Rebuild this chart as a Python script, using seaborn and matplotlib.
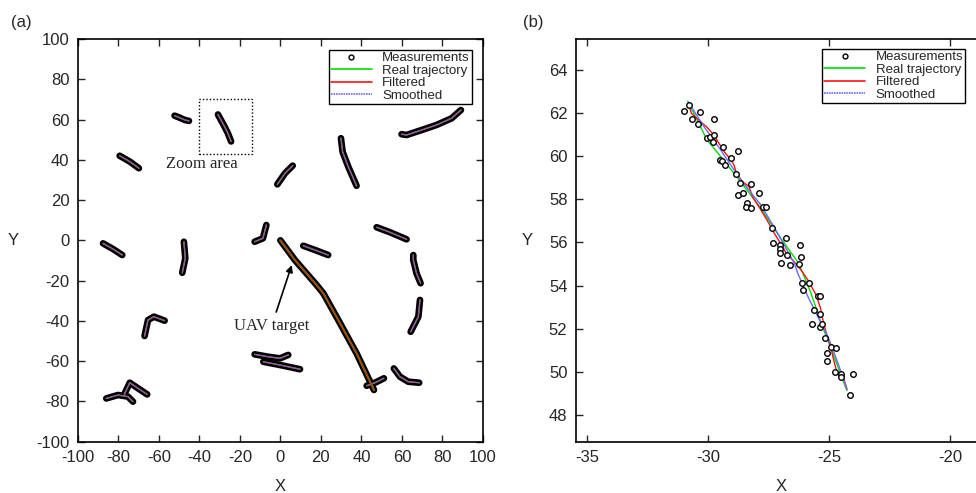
import pandas as pd
import seaborn as sns
import matplotlib.pyplot as plt
from matplotlib.lines import Line2D
from matplotlib.patches import Rectangle


# panel (a): tracked targets, polyline vertices
tracks_x = [
    [-52.2, -49.7, -47.2, -45.1],
    [-30.8, -27.5, -25.9, -24.3],
    [-79.3, -74.3, -69.8],
    [-87.5, -82.6, -78.0],
    [-47.6, -46.9, -48.4],
    [-12.7, -8.6, -6.9],
    [-1.5, 2.3, 6.1],
    [29.9, 30.7, 33.5, 37.6],
    [59.8, 62.3, 68.9, 77.1, 84.5, 89.1],
    [47.5, 54.1, 62.3],
    [11.3, 17.1, 23.6],
    [65.6, 65.6, 67.2, 69.2],
    [68.9, 68.1, 64.3],
    [42.6, 46.7, 51.1],
    [56.0, 59.0, 63.1, 68.5],
    [-12.7, -6.1, -0.2, 3.9],
    [-8.4, -0.2, 9.7],
    [-67.0, -65.3, -62.4, -57.1],
    [-85.9, -80.1, -75.2, -72.7],
    [-77.0, -74.3, -70.2, -65.7],
]
tracks_y = [
    [61.9, 60.9, 59.8, 59.3],
    [62.5, 56.4, 53.2, 49.1],
    [42.0, 39.1, 35.8],
    [-1.5, -4.3, -7.3],
    [-0.7, -8.9, -16.1],
    [-0.7, 1.0, 7.6],
    [27.8, 33.3, 37.1],
    [50.7, 44.0, 36.6, 27.1],
    [52.7, 52.3, 54.5, 57.3, 60.6, 64.7],
    [6.5, 4.0, 0.5],
    [-2.7, -4.8, -7.3],
    [-7.3, -9.8, -16.4, -21.3],
    [-29.6, -37.9, -45.4],
    [-72.2, -70.7, -68.5],
    [-63.6, -67.7, -70.2, -70.7],
    [-56.6, -57.8, -58.6, -56.9],
    [-60.3, -61.9, -64.0],
    [-47.5, -39.6, -37.9, -39.9],
    [-78.5, -76.8, -77.6, -80.1],
    [-76.5, -70.7, -73.5, -76.5],
]
uav_x = [0.0, 7.2, 17.9, 21.2, 28.6, 37.6, 46.2]
uav_y = [0.0, -9.8, -22.2, -26.3, -39.6, -56.1, -74.3]
zoom_box = [-40, 43, 26, 27]   # x0, y0, width, height

# panel (b): zoom on one target
meas_x = [-30.98, -30.77, -30.66, -30.34, -30.41, -29.74, -30.06, -29.93, -29.77, -29.80,
          -29.40, -29.51, -29.44, -29.30, -28.76, -29.07, -28.83, -28.68, -28.22, -28.76,
          -28.58, -28.40, -28.44, -28.25, -27.88, -27.73, -27.61, -27.38, -27.31, -27.05,
          -27.05, -27.02, -26.78, -26.20, -26.76, -26.98, -26.62, -26.16, -26.26, -26.14,
          -25.82, -26.08, -25.46, -25.40, -25.64, -25.37, -25.71, -25.37, -25.29, -25.19,
          -24.94, -24.71, -25.11, -25.11, -24.78, -24.53, -24.53, -24.03, -24.14]
meas_y = [62.11, 62.38, 61.73, 62.04, 61.50, 61.71, 60.86, 60.88, 61.00, 60.66,
          60.41, 59.83, 59.79, 59.61, 60.24, 59.90, 59.16, 58.77, 58.70, 58.19,
          58.28, 57.82, 57.66, 57.61, 58.28, 57.66, 57.66, 56.67, 55.99, 55.87,
          55.68, 55.53, 56.21, 55.87, 55.40, 55.03, 54.96, 55.33, 54.99, 54.12,
          54.12, 53.78, 53.50, 53.50, 52.87, 52.70, 52.23, 52.07, 52.20, 51.58,
          51.14, 51.09, 50.87, 50.49, 49.99, 49.90, 49.77, 49.90, 48.91]
real_x = [-30.84, -30.06, -28.93, -27.82, -27.24, -26.26, -25.75, -25.33, -24.85, -24.27]
real_y = [62.56, 60.79, 59.21, 57.59, 56.58, 55.03, 53.64, 52.25, 50.86, 49.13]
filt_x = [-30.80, -30.69, -30.31, -30.04, -29.76, -29.34, -29.07, -28.93, -28.83, -28.58,
          -28.31, -28.17, -27.82, -27.61, -27.27, -26.92, -26.74, -26.51, -26.16, -25.88,
          -25.54, -25.36, -25.26, -25.12, -24.94, -24.85, -24.71, -24.57, -24.39, -24.27]
filt_y = [62.38, 61.99, 61.60, 61.34, 60.98, 60.21, 59.86, 59.59, 59.21, 58.82,
          58.59, 58.12, 57.51, 57.12, 56.43, 55.80, 55.42, 55.19, 54.72, 54.26,
          53.56, 52.95, 52.40, 51.79, 51.17, 50.70, 50.09, 49.77, 49.65, 49.20]
smooth_x = [-30.81, -30.17, -29.48, -28.65, -27.82, -27.13, -26.44, -26.30, -25.88, -25.40,
            -25.05, -24.64, -24.27]
smooth_y = [62.50, 61.37, 60.29, 58.90, 57.74, 56.43, 55.03, 54.57, 53.49, 52.40,
            51.63, 50.40, 49.20]

GREEN = '#00e000'
RED = '#ff1010'
BLUE = '#6a6aff'

sns.set_style('ticks')
plt.rcParams['font.family'] = ['Liberation Sans', 'DejaVu Sans']
plt.rcParams['axes.unicode_minus'] = False
plt.rc('xtick', direction='in', top=True, labelsize=12)
plt.rc('ytick', direction='in', right=True, labelsize=12)
plt.rc('xtick.major', size=5, width=1)
plt.rc('ytick.major', size=5, width=1)
plt.rc('axes', linewidth=1.2, edgecolor='black')

rows = []
for i, (xs, ys) in enumerate(zip(tracks_x, tracks_y)):
    for x, y in zip(xs, ys):
        rows.append({'track': i, 'x': x, 'y': y})
df_a = pd.DataFrame(rows)
df_uav = pd.DataFrame({'track': 0, 'x': uav_x, 'y': uav_y})

fig = plt.figure(figsize=(9.76, 4.93), dpi=100)
ax1 = fig.add_axes([0.0796, 0.104, 0.4153, 0.817])
ax2 = fig.add_axes([0.590, 0.104, 0.42, 0.817])

line_kw = dict(x='x', y='y', units='track', estimator=None, sort=False, legend=False)

# measurements shown as a dark band, estimates drawn on top
for d in (df_a, df_uav):
    sns.lineplot(data=d, color='black', lw=4.8, solid_capstyle='round', ax=ax1, **line_kw)
sns.lineplot(data=df_a, color=GREEN, lw=1.0, ax=ax1, **line_kw)
sns.lineplot(data=df_a, color=RED, lw=0.9, ax=ax1, **line_kw)
sns.lineplot(data=df_a, color=BLUE, lw=0.6, ax=ax1, **line_kw)
sns.lineplot(data=df_uav, color=GREEN, lw=1.4, ax=ax1, **line_kw)
sns.lineplot(data=df_uav, color=RED, lw=0.9, ax=ax1, **line_kw)

ax1.add_patch(Rectangle((zoom_box[0], zoom_box[1]), zoom_box[2], zoom_box[3],
                        fill=False, ls=(0, (1, 1.5)), lw=1, color='black'))
ax1.text(-38.7, 37.8, 'Zoom area', ha='center', va='center', fontsize=12,
         family=['Liberation Serif', 'DejaVu Serif'])
ax1.annotate('UAV target', xy=(5.6, -12.3), xytext=(-4.3, -42.5), ha='center', va='center',
             fontsize=12, family=['Liberation Serif', 'DejaVu Serif'],
             arrowprops=dict(arrowstyle='-|>', color='black', lw=1.2, mutation_scale=10,
                             shrinkA=2, shrinkB=0))

ax1.set_xlim(-100, 100)
ax1.set_ylim(-100, 100)
ax1.set_xticks(range(-100, 101, 20))
ax1.set_yticks(range(-100, 101, 20))

# panel (b)
sns.lineplot(x=real_x, y=real_y, color=GREEN, lw=1.0, sort=False, estimator=None, ax=ax2)
sns.lineplot(x=filt_x, y=filt_y, color=RED, lw=1.0, sort=False, estimator=None, ax=ax2)
sns.lineplot(x=smooth_x, y=smooth_y, color=BLUE, lw=1.0, sort=False, estimator=None, ax=ax2)
sns.scatterplot(x=meas_x, y=meas_y, marker='o', s=16, facecolor='white', edgecolor='black',
                linewidth=1.0, ax=ax2, zorder=3)
ax2.set_xlim(-35.46, -18.54)
ax2.set_ylim(46.76, 65.44)
ax2.set_xticks([-35, -30, -25, -20])
ax2.set_yticks(range(48, 65, 2))

handles = [Line2D([], [], ls='none', marker='o', ms=3.5, mfc='white', mec='black', mew=1),
           Line2D([], [], color=GREEN, lw=1.2),
           Line2D([], [], color=RED, lw=1.2),
           Line2D([], [], color=BLUE, lw=1.2, ls=(0, (1, 0.5)))]
labels = ['Measurements', 'Real trajectory', 'Filtered', 'Smoothed']

for ax, ylx, bb in ((ax1, -0.16, (0.972, 0.972)), (ax2, -0.118, (0.95, 0.975))):
    ax.set_xlabel('X', fontsize=12)
    ax.set_ylabel('Y', fontsize=12, rotation=0)
    ax.xaxis.set_label_coords(0.5, -0.112)
    ax.yaxis.set_label_coords(ylx, 0.5)
    ax.xaxis.label.set_va('center')
    ax.yaxis.label.set_va('center')
    ax.tick_params(pad=6)
    leg = ax.legend(handles, labels, loc='upper right', bbox_to_anchor=bb, fontsize=9.5,
                    frameon=True, fancybox=False, framealpha=1, edgecolor='black',
                    handlelength=3.1, labelspacing=0.02, borderpad=0.15, borderaxespad=0.0,
                    handletextpad=0.8)
    leg.get_frame().set_linewidth(1.0)

fig.text(21 / 976, 1 - 23 / 493, '(a)', fontsize=12, ha='center', va='center')
fig.text(533 / 976, 1 - 23 / 493, '(b)', fontsize=12, ha='center', va='center')

fig.savefig('out.png', dpi=100)
